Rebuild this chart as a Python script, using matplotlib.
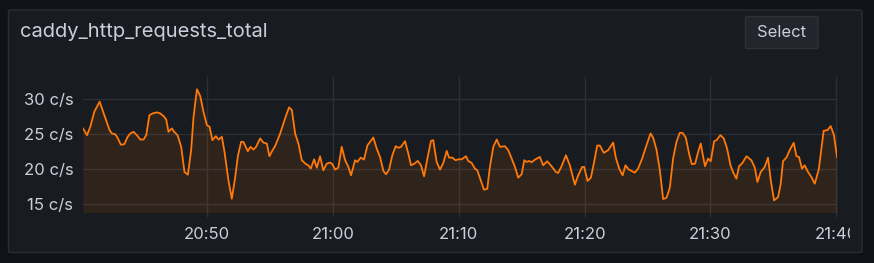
import matplotlib.pyplot as plt
from matplotlib.patches import FancyBboxPatch
from matplotlib.transforms import Bbox, TransformedBbox

# minutes after 20:40 and request rate (c/s)
minutes = [0.16, 0.48, 0.74, 1.06, 1.48, 1.85, 2.27, 2.46, 2.72, 2.90, 3.17, 3.44, 3.70, 3.91,
           4.17, 4.44, 4.71, 4.97, 5.18, 5.44, 5.71, 6.03, 6.29, 6.56, 6.77, 6.95, 7.22, 7.40,
           7.67, 7.96, 8.22, 8.49, 8.75, 8.94, 9.21, 9.47, 9.73, 10.00, 10.21, 10.44, 10.71,
           10.92, 11.19, 11.40, 11.71, 11.98, 12.25, 12.46, 12.72, 12.90, 13.25, 13.46, 13.70,
           13.91, 14.23, 14.49, 14.76, 14.97, 15.21, 15.42, 15.82, 16.08, 16.35, 16.53, 16.75,
           17.01, 17.27, 17.54, 17.88, 18.06, 18.25, 18.52, 18.73, 18.99, 19.25, 19.52, 19.79,
           19.97, 20.18, 20.44, 20.71, 20.98, 21.24, 21.45, 21.77, 21.95, 22.22, 22.48, 22.75,
           23.22, 23.49, 23.75, 24.02, 24.23, 24.47, 24.73, 25.00, 25.21, 25.42, 25.74, 26.00,
           26.21, 26.48, 26.75, 27.01, 27.25, 27.54, 27.80, 27.98, 28.25, 28.52, 28.78, 29.05,
           29.23, 29.49, 29.76, 29.97, 30.24, 30.58, 30.76, 31.03, 31.29, 31.48, 31.75, 32.01,
           32.27, 32.48, 32.75, 33.02, 33.28, 33.67, 33.94, 34.21, 34.47, 34.73, 35.00, 35.21,
           35.40, 35.60, 35.79, 36.06, 36.45, 36.71, 37.03, 37.38, 37.72, 37.90, 38.17, 38.52,
           38.83, 39.23, 39.49, 39.81, 39.97, 40.24, 40.50, 40.76, 41.00, 41.21, 41.53, 41.87,
           42.27, 42.48, 42.75, 43.02, 43.25, 43.52, 43.73, 43.99, 44.25, 44.57, 44.92, 45.24,
           45.44, 45.71, 45.98, 46.24, 46.51, 46.77, 47.03, 47.30, 47.56, 47.78, 48.04, 48.30,
           48.52, 48.78, 49.02, 49.23, 49.37, 49.57, 49.81, 50.02, 50.29, 50.48, 50.79, 51.06,
           51.32, 51.59, 51.79, 52.06, 52.27, 52.54, 52.86, 53.25, 53.52, 53.73, 53.99, 54.31,
           54.57, 54.79, 55.05, 55.37, 55.58, 55.76, 56.03, 56.29, 56.61, 56.83, 57.03, 57.27,
           57.48, 57.75, 58.02, 58.28, 58.60, 58.99, 59.29, 59.55, 59.81, 60.05]
rates = [25.83, 24.87, 26.07, 28.23, 29.66, 27.75, 25.59, 25.10, 25.00, 24.50, 23.50, 23.57, 24.60,
         25.10, 25.35, 24.87, 24.24, 24.24, 24.87, 27.75, 27.99, 28.13, 27.99, 27.60, 27.10, 25.35,
         25.83, 25.35, 24.87, 23.20, 19.60, 19.20, 22.70, 27.50, 31.44, 30.48, 28.20, 26.30, 26.07,
         24.15, 24.72, 24.24, 24.63, 22.47, 18.40, 15.76, 18.87, 21.85, 23.90, 23.90, 22.57, 23.20,
         22.80, 23.20, 24.40, 23.80, 23.67, 21.85, 22.70, 23.30, 25.10, 26.55, 27.99, 28.85, 28.47,
         25.10, 23.67, 21.27, 20.70, 20.55, 20.07, 21.41, 20.20, 21.85, 19.83, 20.79, 20.94, 20.70,
         19.93, 20.20, 23.20, 21.27, 20.31, 19.11, 21.27, 21.03, 21.65, 21.37, 23.40, 24.53, 22.95,
         21.75, 19.74, 19.26, 19.93, 21.99, 23.29, 23.05, 23.20, 24.00, 22.23, 20.55, 20.79, 21.17,
         20.55, 18.97, 21.75, 24.05, 24.15, 21.03, 19.93, 20.89, 22.61, 21.65, 21.65, 21.27, 21.41,
         21.41, 21.85, 21.17, 20.89, 20.07, 19.83, 18.39, 17.05, 17.19, 20.31, 23.19, 24.24, 23.19,
         23.29, 22.71, 21.51, 20.31, 18.78, 19.26, 21.27, 21.03, 21.17, 20.98, 21.37, 21.75, 20.55,
         21.13, 20.41, 19.59, 19.45, 20.41, 21.99, 20.55, 17.77, 19.11, 20.31, 20.31, 18.30, 18.78,
         21.03, 23.38, 23.38, 22.33, 22.71, 23.81, 21.65, 20.07, 19.11, 20.55, 19.93, 19.74, 19.50,
         20.07, 21.51, 23.43, 25.11, 24.53, 22.81, 19.83, 15.71, 15.90, 17.34, 21.51, 23.91, 25.20,
         25.20, 24.53, 22.23, 20.70, 20.79, 22.47, 23.67, 22.23, 20.41, 21.51, 21.13, 24.00, 24.15,
         24.87, 24.39, 22.95, 20.55, 19.59, 18.63, 20.41, 20.89, 21.85, 21.27, 20.22, 18.15, 19.59,
         20.31, 21.65, 18.39, 15.52, 16.00, 17.91, 21.13, 21.65, 22.71, 23.77, 21.85, 21.75, 20.07,
         20.55, 19.59, 18.87, 17.91, 19.93, 25.49, 25.59, 26.16, 24.87, 21.75]

tick_minutes = [10, 20, 30, 40, 50, 60]
tick_labels = ['20:50', '21:00', '21:10', '21:20', '21:30', '21:40']
y_ticks = [15, 20, 25, 30]
y_labels = ['15 c/s', '20 c/s', '25 c/s', '30 c/s']

plt.rcParams['font.family'] = ['Inter', 'DejaVu Sans']
text_col = '#ccccdc'
line_col = '#ff780a'
panel_bg = '#181b1f'

W, H = 874, 263
fig = plt.figure(figsize=(W / 100, H / 100), dpi=100)
fig.patch.set_facecolor('#111217')

# panel box and the Select button (kept behind the axes)
panel = FancyBboxPatch((8.5 / W, 1 - 252.5 / H), 853.5 / W, 242.5 / H,
                       boxstyle='round,pad=0,rounding_size=0.004', transform=fig.transFigure,
                       facecolor=panel_bg, edgecolor='#2a2d32', linewidth=1, zorder=-2)
fig.patches.append(panel)
btn = FancyBboxPatch((745.5 / W, 1 - 48.5 / H), 72.5 / W, 32 / H,
                     boxstyle='round,pad=0,rounding_size=0.003', transform=fig.transFigure,
                     facecolor='#22252b', edgecolor='#2f3238', linewidth=1, zorder=-1)
fig.patches.append(btn)
fig.text(781.5 / W, 1 - 32.5 / H, 'Select', color=text_col, fontsize=12,
         ha='center', va='center')
fig.text(20 / W, 1 - 32 / H, 'caddy_http_requests_total', color=text_col, fontsize=14.5,
         ha='left', va='center')

ax = fig.add_axes([83 / W, 1 - 211.7 / H, (837 - 83) / W, (211.7 - 77) / H])
ax.set_facecolor(panel_bg)
ax.patch.set_alpha(0)
ax.plot(minutes, rates, color=line_col, linewidth=1.3, zorder=3)
ax.fill_between(minutes, rates, 0, color=line_col, alpha=0.1, linewidth=0, zorder=2)
ax.set_xlim(0.16, 60.05)
ax.set_ylim(13.9, 33.2)

for yv in y_ticks:
    ax.axhline(yv, color='#2c2f35', linewidth=1, zorder=1)
for xv in tick_minutes:
    ax.axvline(xv, ymin=-0.035, ymax=1, color='#2c2f35', linewidth=1, zorder=1, clip_on=False)

ax.set_yticks(y_ticks)
ax.set_yticklabels(y_labels)
ax.set_xticks(tick_minutes)
ax.set_xticklabels(tick_labels)
ax.tick_params(length=0, colors=text_col, labelsize=12)
ax.tick_params(axis='y', pad=7)
ax.tick_params(axis='x', pad=11)
for s in ax.spines.values():
    s.set_visible(False)

# the last time label is cut off at the panel edge
clip = TransformedBbox(Bbox([[0, 0], [850 / W, 1]]), fig.transFigure)
last = ax.get_xticklabels()[-1]
last.set_clip_box(clip)
last.set_clip_on(True)

fig.savefig('out.png', dpi=100, facecolor=fig.get_facecolor())
